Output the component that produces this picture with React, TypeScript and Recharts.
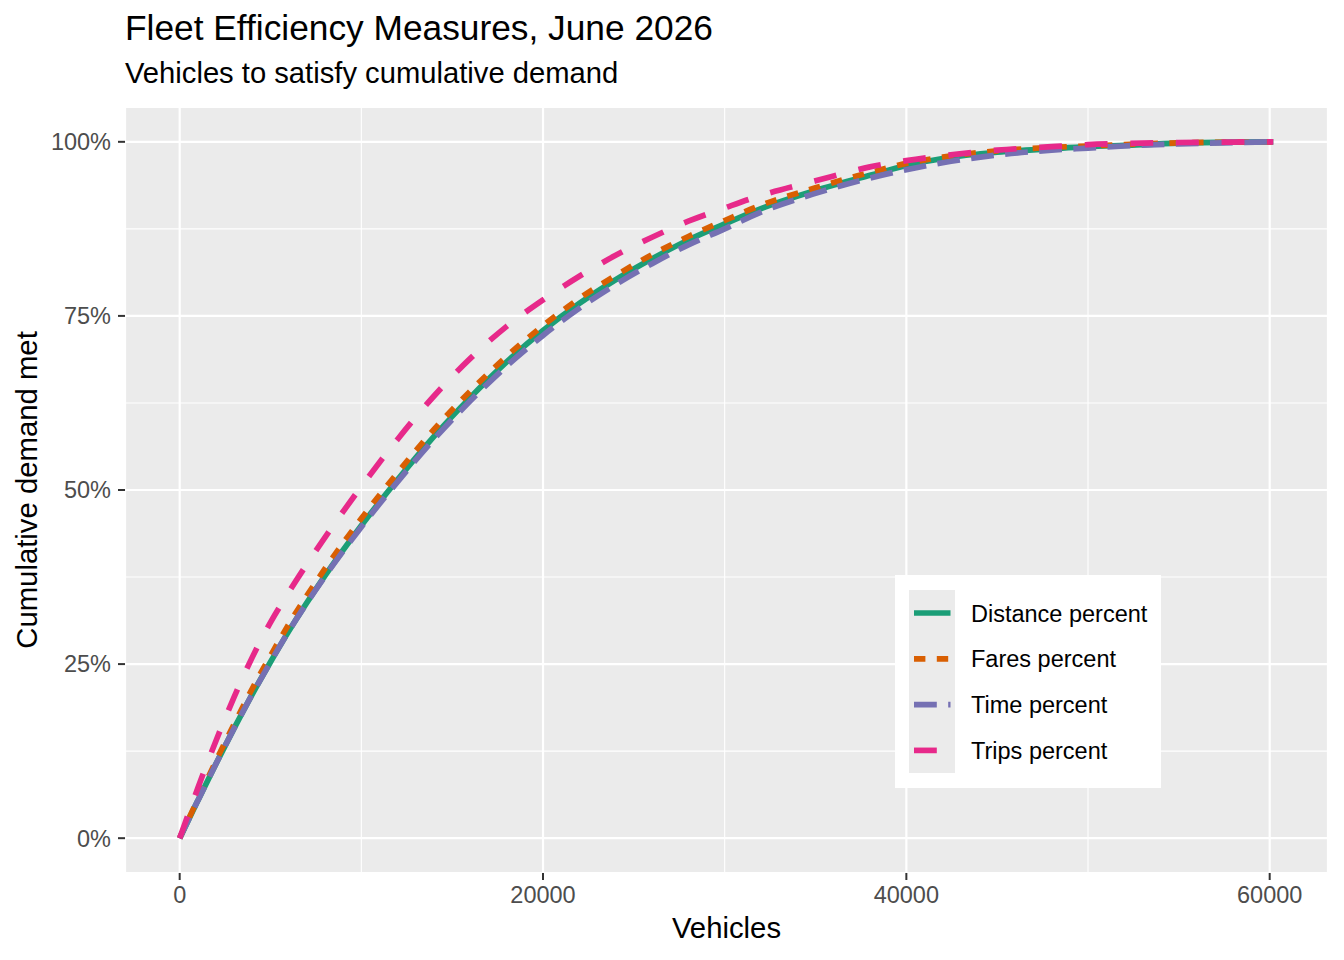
import { LineChart, Line, XAxis, YAxis, CartesianGrid } from 'recharts';

const vehicles = [
    0, 1000, 2000, 3000, 4000, 5000, 6000, 8000, 10000, 12000, 14000, 16000,
    18000, 20000, 22000, 24000, 26000, 28000, 30000, 32000, 35000, 38000,
    40000, 42000, 45000, 48000, 50000, 52000, 55000, 58000, 60200,
];

const distancePct = [
    0, 5.4, 10.7, 15.8, 20.7, 25.3, 29.7, 37.7, 44.9, 51.5, 57.7, 63.3,
    68.4, 72.9, 76.8, 80.2, 83.2, 85.9, 88.2, 90.4, 93.0, 95.2,
    96.6, 97.6, 98.5, 99.0, 99.3, 99.5, 99.8, 99.95, 100,
];

const faresPct = [
    0, 5.6, 11.1, 16.4, 21.5, 26.2, 30.7, 38.7, 45.9, 52.5, 58.7, 64.2,
    69.2, 73.6, 77.5, 80.8, 83.8, 86.4, 88.7, 90.9, 93.4, 95.6,
    96.9, 97.8, 98.7, 99.2, 99.4, 99.6, 99.85, 99.95, 100,
];

const timePct = [
    0, 5.4, 10.7, 15.8, 20.7, 25.3, 29.7, 37.6, 44.7, 51.2, 57.3, 62.8,
    67.8, 72.2, 76.1, 79.5, 82.5, 85.2, 87.5, 89.9, 92.6, 94.8,
    96.0, 97.0, 98.1, 98.8, 99.1, 99.4, 99.7, 99.9, 100,
];

const tripsPct = [
    0, 7.2, 14.0, 20.3, 26.0, 31.0, 35.3, 43.2, 50.5, 57.3, 63.5, 68.9,
    73.5, 77.3, 80.7, 83.7, 86.3, 88.6, 90.5, 92.3, 94.4, 96.4,
    97.3, 98.0, 98.8, 99.3, 99.6, 99.75, 99.9, 99.97, 100,
];

const xTicks = [0, 20000, 40000, 60000];
const xMinorTicks = [10000, 30000, 50000];
const yTicks = [0, 25, 50, 75, 100];
const yMinorTicks = [12.5, 37.5, 62.5, 87.5];

const seriesNames = ['Distance percent', 'Fares percent', 'Time percent', 'Trips percent'];
const seriesKeys = ['distance', 'fares', 'time', 'trips'];
const seriesColors = ['#1B9E77', '#D95F02', '#7570B3', '#E7298A'];
const seriesDashes = ['', '11.4 11.4', '22.8 11.4', '22.8 22.8'];

const data = vehicles.map((v, i) => ({
    vehicles: v,
    distance: distancePct[i],
    fares: faresPct[i],
    time: timePct[i],
    trips: tripsPct[i],
}));

const FONT = '"Liberation Sans", Arial, Helvetica, sans-serif';
const LINE_W = 5.7;

export default function App() {
    return (
        <div style={{ position: 'absolute', left: 0, top: 0, width: 1344, height: 960, background: '#fff', fontFamily: FONT }}>
            <LineChart
                width={1344}
                height={960}
                data={data}
                margin={{ top: 107, right: 16, left: 55, bottom: 47 }}
            >
                {/* minor grid comes from a pair of hidden axes */}
                <XAxis xAxisId="minor" dataKey="vehicles" type="number" domain={[-3010, 63210]} ticks={xMinorTicks} hide allowDataOverflow />
                <YAxis yAxisId="minor" type="number" domain={[-5, 105]} ticks={yMinorTicks} hide allowDataOverflow />
                <CartesianGrid xAxisId="minor" yAxisId="minor" fill="#EBEBEB" stroke="#FFFFFF" strokeWidth={1.1} strokeDasharray="" />
                <CartesianGrid stroke="#FFFFFF" strokeWidth={2.2} strokeDasharray="" />
                <XAxis
                    dataKey="vehicles"
                    type="number"
                    domain={[-3010, 63210]}
                    ticks={xTicks}
                    interval={0}
                    allowDataOverflow
                    height={40}
                    axisLine={false}
                    tickSize={7}
                    tickMargin={6}
                    tickLine={{ stroke: '#333333', strokeWidth: 2 }}
                    tick={{ fill: '#4D4D4D', fontSize: 23.5, fontFamily: FONT }}
                />
                <YAxis
                    type="number"
                    domain={[-5, 105]}
                    ticks={yTicks}
                    interval={0}
                    allowDataOverflow
                    width={70}
                    axisLine={false}
                    tickSize={7}
                    tickMargin={7}
                    tickLine={{ stroke: '#333333', strokeWidth: 2 }}
                    tick={{ fill: '#4D4D4D', fontSize: 23.5, fontFamily: FONT }}
                    tickFormatter={(v: number) => `${v}%`}
                />
                {seriesKeys.map((k, i) => (
                    <Line
                        key={k}
                        type="monotone"
                        dataKey={k}
                        name={seriesNames[i]}
                        stroke={seriesColors[i]}
                        strokeWidth={LINE_W}
                        strokeDasharray={seriesDashes[i] || undefined}
                        strokeLinecap="butt"
                        dot={false}
                        activeDot={false}
                        isAnimationActive={false}
                    />
                ))}
            </LineChart>

            <svg width={1344} height={960} style={{ position: 'absolute', left: 0, top: 0, pointerEvents: 'none' }}>
                <text x={125} y={40} fontSize={35.3} fill="#000" fontFamily={FONT}>Fleet Efficiency Measures, June 2026</text>
                <text x={125} y={83} fontSize={29.2} fill="#000" fontFamily={FONT}>Vehicles to satisfy cumulative demand</text>
                <text x={726.5} y={938} fontSize={29.3} fill="#000" textAnchor="middle" fontFamily={FONT}>Vehicles</text>
                <text x={37} y={490} fontSize={29.3} fill="#000" textAnchor="middle" fontFamily={FONT} transform="rotate(-90 37 490)">Cumulative demand met</text>
            </svg>

            <div style={{ position: 'absolute', left: 895, top: 575, width: 266, height: 213, background: '#fff' }}>
                <svg width={266} height={213}>
                    <rect x={14} y={15} width={46} height={183} fill="#EBEBEB" />
                    {seriesNames.map((n, i) => (
                        <g key={n}>
                            <line
                                x1={19}
                                x2={55.5}
                                y1={38 + i * 45.8}
                                y2={38 + i * 45.8}
                                stroke={seriesColors[i]}
                                strokeWidth={LINE_W}
                                strokeDasharray={seriesDashes[i] || undefined}
                            />
                            <text x={76} y={46.5 + i * 45.8} fontSize={23.5} fill="#000" fontFamily={FONT}>{n}</text>
                        </g>
                    ))}
                </svg>
            </div>
        </div>
    );
}
